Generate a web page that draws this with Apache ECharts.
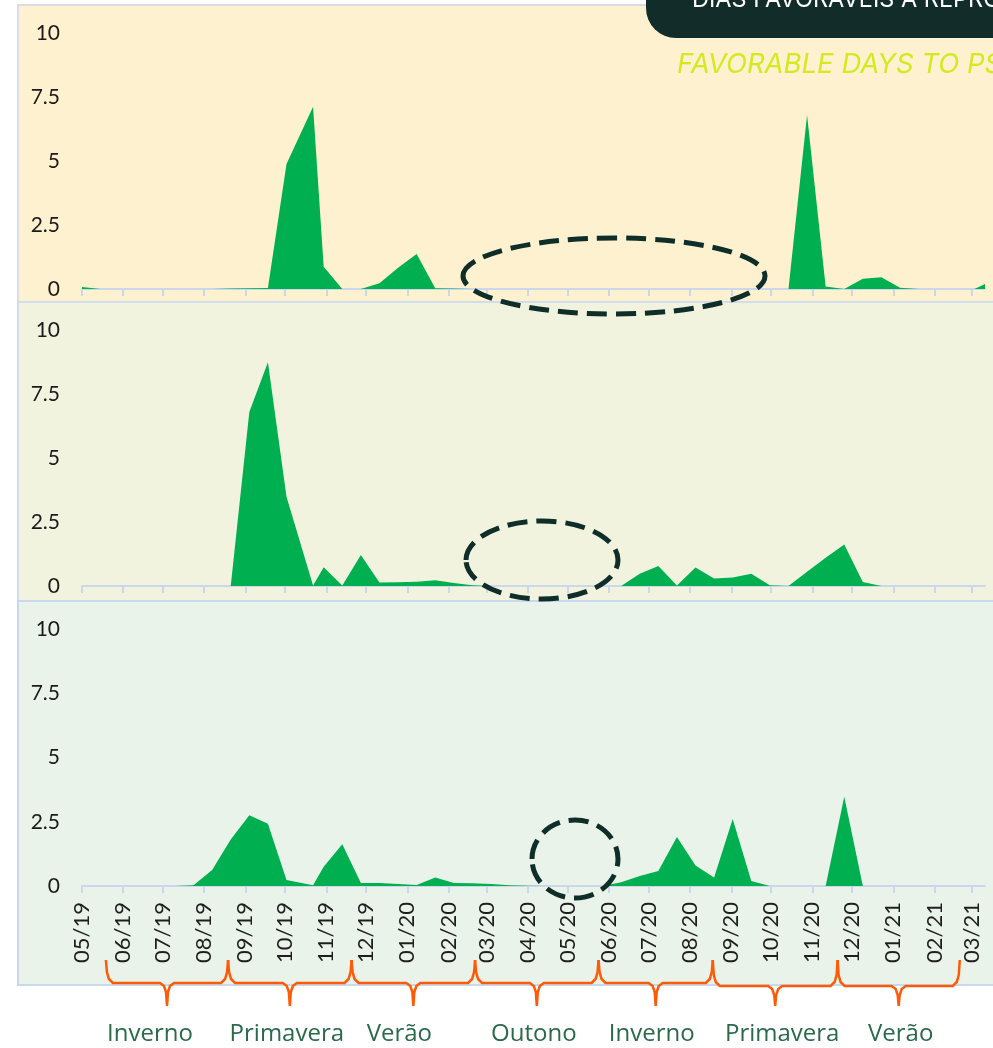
<!DOCTYPE html>
<html>
<head>
<meta charset="utf-8">
<script src="https://cdn.jsdelivr.net/npm/echarts@6/dist/echarts.min.js"></script>
<style>
  html, body { margin: 0; padding: 0; background: #fff; }
  #chart { width: 993px; height: 1048px; }
</style>
</head>
<body>
<div id="chart"></div>
<script>
  // sample dates (roughly every two weeks)
  const dates = [
    '2019-05-01','2019-05-15','2019-05-29','2019-06-12','2019-06-26','2019-07-10','2019-07-24','2019-08-07','2019-08-21','2019-09-04',
    '2019-09-18','2019-10-02','2019-10-22','2019-10-30','2019-11-13','2019-11-27','2019-12-11','2019-12-25','2020-01-08','2020-01-22',
    '2020-02-05','2020-02-19','2020-03-04','2020-03-18','2020-04-01','2020-04-15','2020-04-29','2020-05-13','2020-05-27','2020-06-10',
    '2020-06-24','2020-07-08','2020-07-22','2020-08-05','2020-08-19','2020-09-02','2020-09-16','2020-09-30','2020-10-14','2020-10-28',
    '2020-11-11','2020-11-25','2020-12-09','2020-12-23','2021-01-06','2021-01-20','2021-02-03','2021-02-17','2021-03-03','2021-03-11'
  ];
  const topValues = [
    0.08, 0, 0, 0, 0, 0, 0, 0, 0.02, 0.03,
    0.04, 4.88, 7.12, 0.87, 0, 0, 0.22, 0.83, 1.37, 0.03,
    0.02, 0, 0, 0, 0, 0, 0, 0, 0, 0,
    0, 0, 0, 0, 0, 0, 0, 0, 0, 6.8,
    0.1, 0, 0.4, 0.46, 0.05, 0, 0, 0, 0, 0.2
  ];
  const midValues = [
    0, 0, 0, 0, 0, 0, 0, 0, 0, 6.8,
    8.74, 3.49, 0.02, 0.73, 0.02, 1.21, 0.14, 0.15, 0.17, 0.22,
    0.12, 0.03, 0, 0, 0, 0, 0, 0, 0, 0,
    0.48, 0.78, 0.02, 0.72, 0.29, 0.33, 0.48, 0.03, 0, 0.56,
    1.1, 1.62, 0.16, 0, 0, 0, 0, 0, 0, 0.02
  ];
  const botValues = [
    0, 0, 0, 0, 0, 0, 0.03, 0.62, 1.81, 2.75,
    2.42, 0.23, 0.03, 0.75, 1.62, 0.12, 0.12, 0.08, 0.04, 0.33,
    0.12, 0.11, 0.08, 0.03, 0.01, 0, 0, 0, 0, 0.15,
    0.39, 0.58, 1.91, 0.8, 0.33, 2.61, 0.19, 0, 0, 0,
    0, 3.47, 0, 0, 0, 0, 0, 0, 0, 0
  ];
  const monthLabels = ['05/19','06/19','07/19','08/19','09/19','10/19','11/19','12/19','01/20','02/20','03/20','04/20',
    '05/20','06/20','07/20','08/20','09/20','10/20','11/20','12/20','01/21','02/21','03/21'];
  const seasonNames = ['Inverno','Primavera','Verão','Outono','Inverno','Primavera','Verão'];
  const seasonBounds = ['2019-05-19','2019-08-19','2019-11-20','2020-02-21','2020-05-24','2020-08-18','2020-11-20','2021-02-20'];

  const axisStart = '2019-05-01';
  const axisEnd = '2021-03-11';

  function toTime(s) {
    const p = s.split('-');
    return new Date(+p[0], +p[1] - 1, +p[2]).getTime();
  }
  const monthTicks = monthLabels.map(l => new Date(2000 + +l.slice(3), +l.slice(0, 2) - 1, 1).getTime());
  function monthLabel(v) {
    let best = 0;
    monthTicks.forEach((t, i) => { if (Math.abs(t - v) < Math.abs(monthTicks[best] - v)) best = i; });
    return monthLabels[best];
  }

  const green = '#00b050';
  const axisColor = '#cbd8eb';
  const grids = [
    { left: 82, right: 8, top: 33, height: 256 },
    { left: 82, right: 8, top: 330, height: 256 },
    { left: 82, right: 8, top: 629, height: 257 }
  ];
  const seriesValues = [topValues, midValues, botValues];

  const chart = echarts.init(document.getElementById('chart'));
  chart.setOption({
    animation: false,
    grid: grids,
    xAxis: grids.map((g, i) => ({
      type: 'value',
      gridIndex: i,
      min: toTime(axisStart),
      max: toTime(axisEnd),
      axisLine: { lineStyle: { color: axisColor, width: 2 } },
      axisTick: { show: true, customValues: monthTicks, length: 7, lineStyle: { color: axisColor, width: 2 } },
      axisLabel: {
        show: i === 2,
        customValues: monthTicks,
        rotate: 90,
        margin: 16,
        fontFamily: 'Lato',
        fontSize: 22,
        color: '#1e1e1e',
        formatter: v => monthLabel(v)
      },
      splitLine: { show: false }
    })),
    yAxis: grids.map((g, i) => ({
      type: 'value',
      gridIndex: i,
      min: 0,
      max: 10,
      interval: 2.5,
      axisLine: { show: false },
      axisTick: { show: false },
      splitLine: { show: false },
      axisLabel: { margin: 22, fontFamily: 'Lato', fontSize: 21, color: '#1a1a1a' }
    })),
    series: seriesValues.map((vals, i) => ({
      type: 'line',
      xAxisIndex: i,
      yAxisIndex: i,
      symbol: 'none',
      lineStyle: { width: 0 },
      areaStyle: { color: green, opacity: 1 },
      data: dates.map((d, j) => [toTime(d), vals[j]])
    }))
  });

  // decorations: panel backgrounds, header, dashed ellipses, season braces
  const braceColor = '#ff5a06';
  const labelShift = [-17, -3, -14, -3, -4, 7, 2];
  const elements = [
    { type: 'rect', z: -10, shape: { x: 18, y: 5, width: 990, height: 297 }, style: { fill: '#fef1cf', stroke: '#d9dde4', lineWidth: 2 } },
    { type: 'rect', z: -10, shape: { x: 18, y: 302, width: 990, height: 299 }, style: { fill: '#f2f3df', stroke: '#d3dcec', lineWidth: 2 } },
    { type: 'rect', z: -10, shape: { x: 18, y: 601, width: 990, height: 384 }, style: { fill: '#e9f3ea', stroke: '#c8d8ef', lineWidth: 2 } },
    { type: 'rect', z: 50, shape: { x: 646, y: -40, width: 400, height: 78, r: [0, 0, 0, 30] }, style: { fill: '#112c29' } },
    { type: 'text', z: 51, x: 692, y: 12, style: { text: 'DIAS FAVORÁVEIS À REPRODUÇÃO', fill: '#ffffff', font: '23.5px Inter', textVerticalAlign: 'bottom' } },
    { type: 'text', z: 51, x: 677, y: 65, style: { text: 'FAVORABLE DAYS TO PSYLLID REPRODUCTION', fill: '#d3ea21', font: 'italic 27.5px Inter', textVerticalAlign: 'middle' } },
    { type: 'ellipse', z: 60, shape: { cx: 614, cy: 276, rx: 151, ry: 38 }, style: { fill: 'none', stroke: '#0f2e29', lineWidth: 5, lineDash: [20, 9] } },
    { type: 'ellipse', z: 60, shape: { cx: 542, cy: 560, rx: 76, ry: 39 }, style: { fill: 'none', stroke: '#0f2e29', lineWidth: 5, lineDash: [20, 9] } },
    { type: 'ellipse', z: 60, shape: { cx: 575, cy: 859, rx: 43, ry: 39 }, style: { fill: 'none', stroke: '#0f2e29', lineWidth: 5, lineDash: [20, 9] } }
  ];
  const bx = seasonBounds.map(d => chart.convertToPixel({ xAxisIndex: 2 }, toTime(d)));
  seasonNames.forEach((name, i) => {
    const x0 = bx[i], x1 = bx[i + 1], xm = (x0 + x1) / 2, yh = i < 5 ? 983 : 986;
    elements.push({
      type: 'polyline', z: 60,
      shape: { points: [
        [x0, 960], [x0 + 1, yh - 11], [x0 + 3, yh - 4], [x0 + 7, yh], [xm - 7, yh], [xm - 3, yh + 3], [xm - 1, yh + 9], [xm, 1006],
        [xm + 1, yh + 9], [xm + 3, yh + 3], [xm + 7, yh], [x1 - 7, yh], [x1 - 3, yh - 4], [x1 - 1, yh - 11], [x1, 960]
      ] },
      style: { fill: 'none', stroke: braceColor, lineWidth: 2.5 }
    });
    elements.push({
      type: 'text', z: 60, x: xm + labelShift[i], y: 1034,
      style: { text: name, fill: '#2a6a4a', font: '24px "Open Sans"', textAlign: 'center', textVerticalAlign: 'middle' }
    });
  });
  chart.setOption({ graphic: { elements: elements } });
</script>
</body>
</html>
